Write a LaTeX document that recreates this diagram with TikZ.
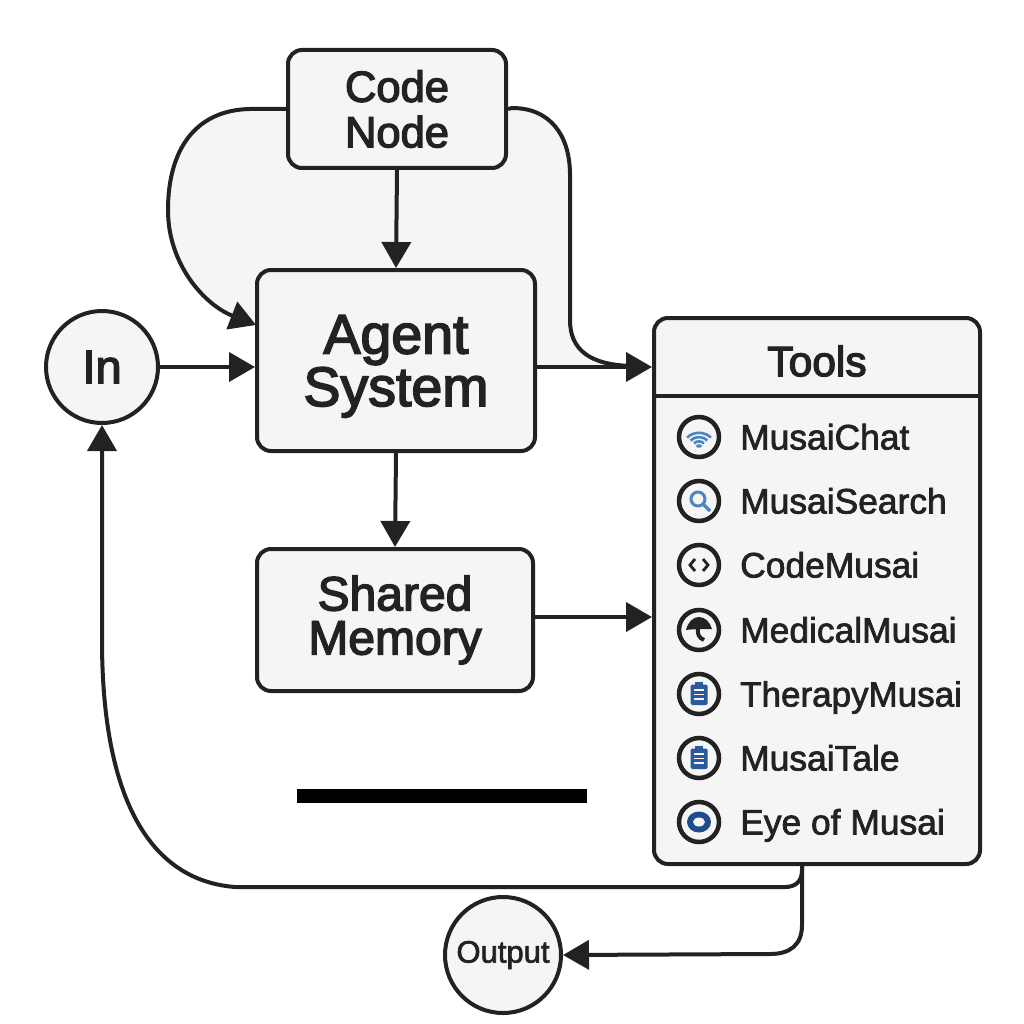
\documentclass[tikz,border=0pt]{standalone}
\usepackage{fontspec}
\setmainfont[FakeBold=3]{Liberation Sans}
\newfontfamily\toolfont[FakeBold=2]{Liberation Sans}
\usetikzlibrary{arrows.meta,backgrounds,calc}
\definecolor{ink}{HTML}{222222}
\definecolor{panel}{HTML}{F5F5F5}
\definecolor{iconblue}{HTML}{4A86C0}
\definecolor{deepblue}{HTML}{2A5A9A}
\definecolor{navy}{HTML}{1F4C8C}
\newcommand{\fsz}[1]{\fontsize{#1pt}{#1pt}\selectfont}
\tikzset{
  x=1pt,y=-1pt,
  boxnode/.style={draw=ink,fill=panel,line width=4pt,rounded corners=14pt,inner sep=0pt,align=center,text=ink},
  circnode/.style={circle,draw=ink,fill=panel,line width=4pt,inner sep=0pt,text=ink},
  link/.style={draw=ink,line width=4pt},
  arrowlink/.style={link,-{Triangle[length=26pt,width=29pt]}},
  ring/.style={circle,draw=ink,line width=4.5pt,minimum size=40pt,inner sep=0pt,fill=panel},
  toollabel/.style={anchor=base west,inner sep=0pt,text=ink,font=\toolfont\fsz{35.4}},
}
\begin{document}
\begin{tikzpicture}
\useasboundingbox (0,0) rectangle (1024,1024);
% nodes
\node[boxnode,minimum width=218pt,minimum height=118pt,font=\fsz{43.5}] (code) at (397,109) {Code\\[2pt]Node};
\node[boxnode,minimum width=278pt,minimum height=181pt,font=\fsz{55.5}] (agent) at (396,360.5) {\rule{0pt}{50pt}Agent\\[-3pt]System};
\node[boxnode,minimum width=276pt,minimum height=142pt,font=\fsz{48}] (mem) at (395,620) {Shared\\[-4pt]Memory};
\node[circnode,minimum size=112pt,font=\fsz{47}] (in) at (102,367) {In};
\node[circnode,minimum size=116pt,font=\toolfont\fsz{31}] (output) at (503,955) {Output};
\node[boxnode,minimum width=326pt,minimum height=546pt] (tools) at (817,591) {};
\coordinate (headL) at (654,396);
\coordinate (headR) at (980,396);
\draw[link] (headL) -- (headR);
\node[inner sep=0pt,text=ink,font=\fsz{42.5}] (toolstitle) at (817,361) {Tools};
\node[fill=black,minimum width=290pt,minimum height=14pt,inner sep=0pt] (bar) at (442,796) {};
% tool rows
\node[ring] (i1) at (699,437) {};
\node[ring] (i2) at (699,501) {};
\node[ring] (i3) at (699,565) {};
\node[ring] (i4) at (699,630) {};
\node[ring] (i5) at (699,694) {};
\node[ring] (i6) at (699,758) {};
\node[ring] (i7) at (699,822) {};
\node[toollabel] (t1) at (740,449.5) {MusaiChat};
\node[toollabel] (t2) at (740,513.5) {MusaiSearch};
\node[toollabel] (t3) at (740,577.5) {CodeMusai};
\node[toollabel] (t4) at (740,642.5) {MedicalMusai};
\node[toollabel] (t5) at (740,706.5) {\fontsize{35}{35}\selectfont TherapyMusai};
\node[toollabel] (t6) at (740,770.5) {MusaiTale};
\node[toollabel] (t7) at (740,834.5) {Eye of Musai};
% icons
\begin{scope}[iconblue,line width=2.6pt]
  \foreach \r in {6.5,11,15.5} \draw ($(i1)+(-\r*0.77,10.5-\r*0.64)$) .. controls ($(i1)+(-\r*0.35,10.5-\r*1.05)$) and ($(i1)+(\r*0.35,10.5-\r*1.05)$) .. ($(i1)+(\r*0.77,10.5-\r*0.64)$);
  \fill ($(i1)+(0,9)$) ellipse (3pt and 1.8pt);
  \draw[line width=3pt] ($(i2)+(-1,-2)$) circle (7pt);
  \draw[line width=3.4pt] ($(i2)+(4,3)$) -- ($(i2)+(11,10)$);
\end{scope}
\draw[ink,line width=2.8pt] ($(i3)+(-4,-6)$) -- ($(i3)+(-9,0)$) -- ($(i3)+(-4,6)$);
\draw[ink,line width=2.8pt] ($(i3)+(4,-6)$) -- ($(i3)+(9,0)$) -- ($(i3)+(4,6)$);
\fill[ink] ($(i4)+(-13,0)$) .. controls ($(i4)+(-11,-8)$) and ($(i4)+(-6,-13)$) .. ($(i4)+(0,-13)$) .. controls ($(i4)+(6,-13)$) and ($(i4)+(11,-8)$) .. ($(i4)+(13,-1)$) .. controls ($(i4)+(6,-1)$) and ($(i4)+(-6,-1)$) .. cycle;
\draw[ink,line width=4pt] ($(i4)+(-1,-2)$) .. controls ($(i4)+(-2,4)$) and ($(i4)+(0,8)$) .. ($(i4)+(5,10)$);
\foreach \n in {i5,i6}{
  \fill[deepblue,rounded corners=1.5pt] ($(\n)+(-8.5,-9.5)$) rectangle ($(\n)+(8.5,11)$);
  \fill[deepblue] ($(\n)+(-4,-12)$) rectangle ($(\n)+(4,-8)$);
  \draw[panel,line width=1.3pt] ($(\n)+(-5,-4)$) -- ($(\n)+(5,-4)$) ($(\n)+(-5,0.5)$) -- ($(\n)+(5,0.5)$) ($(\n)+(-5,5)$) -- ($(\n)+(5,5)$);
}
\fill[navy] (i7) ellipse (12pt and 10.5pt);
\fill[panel] (i7) ellipse (6pt and 4.5pt);
% connectors
\coordinate (loopEnd) at (256,325);
\coordinate (mergeR) at (632,366);
\coordinate (tap) at (802,864);
\coordinate (memOut) at ($(mem.east)+(0,-3)$);
\begin{scope}[on background layer]
  \fill[white] (0,0) rectangle (1024,1024);
  \fill[panel] (288,108) -- (250,109) .. controls (195,110) and (168,150) .. (168,210) .. controls (168,265) and (205,305) .. (256,325) -- (396,330) -- (535,365) -- (632,366) .. controls (590,365) and (570,350) .. (570,320) -- (570,175) .. controls (570,135) and (550,108) .. (512,108) -- (396,108) -- cycle;
\end{scope}
\draw[arrowlink] (code.south) -- (agent.north);
\draw[arrowlink] (agent.south) -- (mem.north);
\draw[arrowlink] (in.east) -- (in.east -| agent.west);
\draw[arrowlink] (agent.east |- in) -- (in -| tools.west);
\draw[arrowlink] (memOut) -- (memOut -| tools.west);
\draw[arrowlink] (code.west) -- (250,109) .. controls (195,110) and (168,150) .. (168,210) .. controls (168,265) and (205,305) .. (loopEnd);
\draw[link] (code.east) -- (512,108) .. controls (550,108) and (570,135) .. (570,175) -- (570,320) .. controls (570,350) and (590,365) .. (mergeR);
\draw[arrowlink] (tap) -- (802,870) .. controls (802,882) and (795,887) .. (785,887) -- (235,887) .. controls (145,880) and (102,790) .. (102,640) -- (in.south);
\draw[arrowlink] (tap) -- (802,925) .. controls (802,945) and (790,954) .. (770,954) -- (output.east);
\end{tikzpicture}
\end{document}
